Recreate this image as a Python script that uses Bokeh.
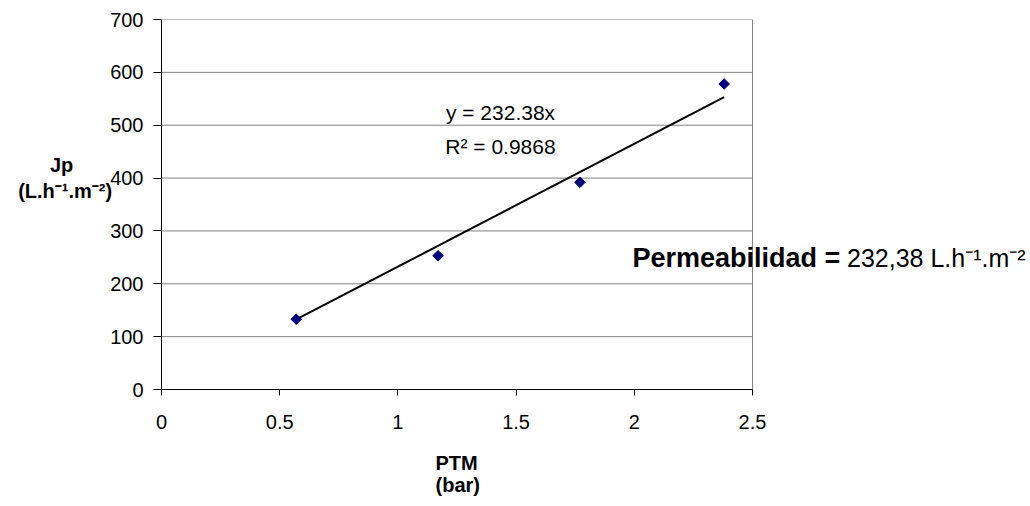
import math
from bokeh.plotting import figure
from bokeh.models import Range1d, FixedTicker, Label, Title
from bokeh.embed import file_html
from bokeh.resources import INLINE

# ---- data ----
ptm = [0.57, 1.17, 1.77, 2.38]
jp = [133, 253, 392, 578]
slope = 232.38
r2 = 0.9868
x_ticks = [0, 0.5, 1, 1.5, 2, 2.5]
x_tick_labels = ["0", "0.5", "1", "1.5", "2", "2.5"]
y_ticks = [0, 100, 200, 300, 400, 500, 600, 700]

FONT = "Liberation Sans"
GRID = "#808080"

# layout (pixels): plot box 161..752 wide, 19..389 high; frame extended to the
# right edge so that the note text can run past the plot box
W, H = 1030, 506
LEFT, TOP, BOX_W, BOX_H = 161, 19, 591, 370
FRAME_W = W - LEFT
x_end = x_ticks[-1] * FRAME_W / BOX_W

p = figure(frame_width=FRAME_W, frame_height=BOX_H,
           min_border_left=LEFT, min_border_right=0,
           min_border_top=TOP, min_border_bottom=H - TOP - BOX_H,
           x_range=Range1d(0, x_end), y_range=Range1d(y_ticks[0], y_ticks[-1]),
           output_backend="svg", toolbar_location=None,
           background_fill_color="white", border_fill_color="white")

p.outline_line_color = None
p.xgrid.visible = False
p.ygrid.visible = False

# axes
p.xaxis.ticker = FixedTicker(ticks=x_ticks)
p.xaxis.major_label_overrides = {t: l for t, l in zip(x_ticks, x_tick_labels)}
p.xaxis.bounds = (x_ticks[0], x_ticks[-1])
p.yaxis.ticker = FixedTicker(ticks=y_ticks)
for ax in (p.xaxis, p.yaxis):
    ax.axis_line_color = "#000000"
    ax.axis_line_width = 1
    ax.major_tick_line_color = "#000000"
    ax.minor_tick_line_color = None
    ax.major_tick_in = 0
    ax.major_label_text_font = FONT
    ax.major_label_text_font_size = "20px"
    ax.major_label_text_color = "#000000"
    ax.axis_label_text_font = FONT
    ax.axis_label_text_font_size = "20px"
    ax.axis_label_text_font_style = "bold"
    ax.axis_label_text_color = "#000000"
p.xaxis.major_tick_out = 6
p.yaxis.major_tick_out = 8
p.xaxis.major_label_standoff = 19
p.yaxis.major_label_standoff = 10

NB = "\u00a0"
p.yaxis.axis_label = "Jp" + NB * 7 + "\n(L.h⁻¹.m⁻²)\n \n "
p.yaxis.axis_label_orientation = "horizontal"
p.yaxis.axis_label_standoff = -5

# x-axis title (two lines centred under the plot box)
p.add_layout(Title(text="PTM\n(bar)", align="left", offset=274, standoff=36,
                   text_font=FONT, text_font_size="20px",
                   text_font_style="bold", text_color="#000000"), "below")

# horizontal grid lines and right border of the plot box
n = len(y_ticks)
p.segment(x0=[x_ticks[0]] * n, y0=y_ticks, x1=[x_ticks[-1]] * n, y1=y_ticks,
          line_color=GRID, line_width=1)
p.segment(x0=[x_ticks[-1]], y0=[y_ticks[0]], x1=[x_ticks[-1]], y1=[y_ticks[-1]],
          line_color=GRID, line_width=1)

# trend line through origin, drawn over data range
xs = [min(ptm), max(ptm)]
ys = [slope * x for x in xs]
p.line(xs, ys, line_color="#000000", line_width=2)

# data points
p.scatter(ptm, jp, marker="square", angle=math.pi / 4, size=7.5,
          fill_color="#000080", line_color="#000080")

def lab(x, y, text, size="21px", bold=False, align="center"):
    p.add_layout(Label(x=x, y=y, text=text, text_font=FONT,
                       text_font_size=size,
                       text_font_style="bold" if bold else "normal",
                       text_align=align, text_baseline="middle",
                       text_color="#000000"))

# equation
lab(1.434, 524, f"y = {slope}x")
lab(1.434, 460, f"R² = {r2}")

# permeability note
lab(1.992, 248, "Permeabilidad =", size="27px", bold=True, align="left")
lab(2.900, 248, "232,38 L.h⁻¹.m⁻²", size="25px", align="left")

open("out.html", "w").write(file_html(p, INLINE))
